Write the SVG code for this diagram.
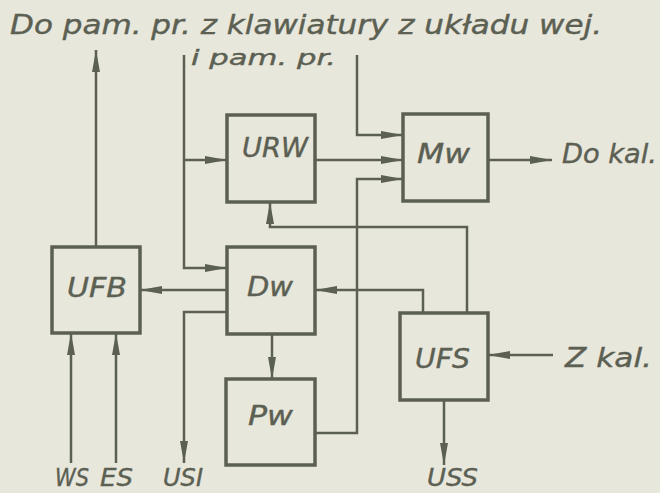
<svg xmlns="http://www.w3.org/2000/svg" width="660" height="493" viewBox="0 0 660 493">
<defs>
<marker id="ah" markerUnits="userSpaceOnUse" markerWidth="24" markerHeight="10" refX="22" refY="4" orient="auto">
<path d="M0,0 L22,4 L0,8 z" fill="#5b6053"/>
</marker>
</defs>
<style>
.box{fill:none;stroke:#5b6053;stroke-width:3.5}
.ln{fill:none;stroke:#5b6053;stroke-width:2.5}
.ar{marker-end:url(#ah)}
text{font-family:"DejaVu Sans","Liberation Sans",sans-serif;font-style:italic;fill:#5b6053;stroke:#5b6053;stroke-width:0.4}
.lb{font-size:26px}
.t{font-size:27px}
.b{font-size:25px}
</style>
<rect width="660" height="493" fill="#e8e7db"/>
<g id="labels">
<text x="10" y="34" font-size="26" textLength="592" lengthAdjust="spacingAndGlyphs">Do pam. pr. z klawiatury z układu wej.</text>
<text x="191" y="65" font-size="22" textLength="145" lengthAdjust="spacingAndGlyphs">i pam. pr.</text>
<text class="t" x="562" y="163" textLength="95" lengthAdjust="spacingAndGlyphs">Do kal.</text>
<text class="t" x="565" y="367" textLength="87" lengthAdjust="spacingAndGlyphs">Z kal.</text>
<text class="b" x="55" y="486" textLength="34" lengthAdjust="spacingAndGlyphs">WS</text>
<text class="b" x="100" y="486" textLength="33" lengthAdjust="spacingAndGlyphs">ES</text>
<text class="b" x="163" y="486" textLength="40" lengthAdjust="spacingAndGlyphs">USI</text>
<text class="b" x="427" y="486" textLength="51" lengthAdjust="spacingAndGlyphs">USS</text>
</g>
<g id="UFB"><rect class="box" x="52" y="247" width="88" height="86"/><text class="lb" x="67" y="297" textLength="60" lengthAdjust="spacingAndGlyphs">UFB</text></g>
<g id="URW"><rect class="box" x="227" y="115" width="88" height="87"/><text class="lb" x="242" y="157" textLength="66" lengthAdjust="spacingAndGlyphs">URW</text></g>
<g id="Mw"><rect class="box" x="403" y="114" width="85" height="87"/><text class="lb" x="417" y="163" textLength="53" lengthAdjust="spacingAndGlyphs">Mw</text></g>
<g id="Dw"><rect class="box" x="227" y="247" width="88" height="87"/><text class="lb" x="247" y="296" textLength="46" lengthAdjust="spacingAndGlyphs">Dw</text></g>
<g id="Pw"><rect class="box" x="226" y="379" width="89" height="86"/><text class="lb" x="248" y="425" textLength="45" lengthAdjust="spacingAndGlyphs">Pw</text></g>
<g id="UFS"><rect class="box" x="400" y="313" width="88" height="87"/><text class="lb" x="415" y="368" textLength="55" lengthAdjust="spacingAndGlyphs">UFS</text></g>
<g id="connectors">
<path class="ln ar" d="M96,247 V50"/>
<path class="ln ar" d="M184,55 V268 H227"/>
<path class="ln ar" d="M184,160 H227"/>
<path class="ln ar" d="M357,55 V135 H403"/>
<path class="ln ar" d="M315,160 H403"/>
<path class="ln ar" d="M315,433 H357 V179 H403"/>
<path class="ln ar" d="M488,160 H552"/>
<path class="ln ar" d="M467,313 V227 H270 V202"/>
<path class="ln ar" d="M423,313 V290 H315"/>
<path class="ln ar" d="M227,290 H140"/>
<path class="ln ar" d="M227,312 H184 V463"/>
<path class="ln ar" d="M272,334 V379"/>
<path class="ln ar" d="M71,463 V333"/>
<path class="ln ar" d="M116,463 V333"/>
<path class="ln ar" d="M553,355 H488"/>
<path class="ln ar" d="M444,400 V465"/>
</g>
</svg>
